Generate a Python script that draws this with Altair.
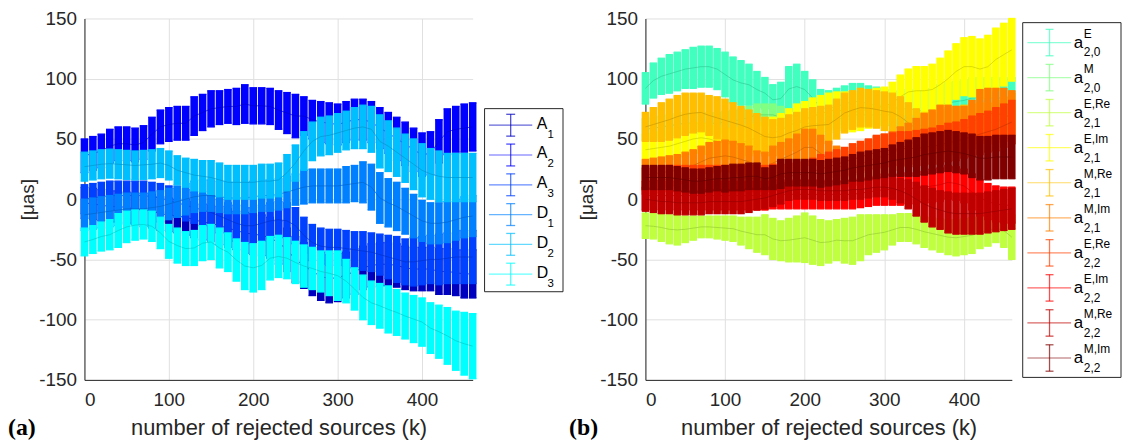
import altair as alt
import pandas as pd

k_values = list(range(0, 461, 10))

# ---------------- panel (a) ----------------
left_series = ["A1", "A2", "A3", "D1", "D2", "D3"]
left_base = ["A", "A", "A", "D", "D", "D"]
left_sub = ["1", "2", "3", "1", "2", "3"]
left_colors = ["#0000BF", "#0000FF", "#0040FF", "#0080FF", "#00BFFF", "#00FFFF"]

A1_c = [-3, -4, -5, -6, -6, -7, -8, -9, -10, -12,
        -13, -14, -15, -17, -19, -20, -22, -24, -26, -28,
        -29, -30, -32, -36, -42, -50, -55, -60, -64, -66,
        -65, -63, -60, -57, -55, -54, -54, -55, -57, -58,
        -58, -58, -60, -60, -61, -62, -62]
A1_e = [13, 13, 13, 13, 13, 13, 13, 14, 14, 14,
        14, 14, 15, 15, 15, 15, 16, 16, 16, 17,
        17, 17, 17, 18, 18, 19, 19, 20, 20, 20,
        20, 19, 19, 18, 18, 18, 18, 18, 18, 18,
        18, 18, 19, 19, 19, 20, 20]
A2_c = [36, 38, 40, 44, 46, 46, 45, 47, 54, 60,
        62, 63, 63, 69, 72, 75, 76, 77, 77, 79,
        77.5, 77.5, 77, 74, 71.5, 69, 69, 66, 64, 63,
        62, 64, 66, 66, 64, 59, 55, 50, 46, 41,
        37, 38, 48, 56, 58, 59, 60]
A2_e = [14, 14, 14, 14, 14, 14, 14, 14, 14, 14,
        14, 14, 14, 16, 15, 15, 14, 14, 15, 16,
        15, 15, 15, 16, 17, 18, 16, 16, 17, 17,
        17, 17, 17, 17, 17, 17, 17, 18, 18, 18,
        18, 18, 18, 19, 19, 20, 20]
A3_c = [0, 1, 2, 3, 3, 3, 3, 3, 2, 1,
        -1, -3, -5, -7, -9, -11, -14, -17, -20, -22,
        -22, -20, -18, -17, -18, -22, -30, -36, -39, -40,
        -40, -41, -42, -43, -44, -46, -48, -50, -52, -52,
        -51, -50, -50, -49, -48, -48, -48]
A3_e = [12, 12, 12, 12, 12, 12, 12, 12, 12, 12,
        12, 12, 13, 13, 13, 14, 14, 14, 15, 15,
        15, 15, 15, 15, 15, 15, 15, 15, 15, 15,
        15, 15, 15, 16, 16, 17, 18, 19, 19, 20,
        20, 20, 21, 21, 22, 22, 22]
D1_c = [-13, -12, -11, -10, -9, -8, -8, -8, -7, -6,
        -4, -2, 0, 2, 3, 3, 2, 1, 1, 1,
        2, 3, 3, 4, 6, 8, 10, 11, 11, 11,
        11, 12, 13, 14, 10, 1, -3, -6, -10, -14,
        -18, -20, -20, -19, -17, -15, -14]
D1_e = [13, 13, 13, 13, 13, 13, 13, 13, 13, 13,
        13, 13, 13, 13, 13, 13, 13, 13, 13, 13,
        13, 13, 13, 13, 13, 13, 14, 14, 14, 14,
        14, 15, 15, 17, 19, 21, 20, 20, 19, 18,
        17, 17, 17, 17, 17, 17, 17]
D2_c = [27, 28, 29, 29.5, 29, 28.5, 28, 28.5, 29, 30,
        28, 24, 22, 20, 19, 18, 16, 14, 14, 14,
        14, 15, 15, 16, 22, 30, 40, 48, 52, 53,
        55, 57, 59, 60, 58, 48, 44, 39, 34, 29,
        24, 21, 19, 18, 18, 18, 18]
D2_e = [12, 12, 12, 12, 12, 12, 12, 12, 12, 12,
        12, 12, 12, 13, 13, 14, 14, 14, 14, 14,
        14, 14, 14, 14, 15, 15, 16, 16, 16, 16,
        16, 16, 17, 18, 19, 22, 21, 20, 20, 21,
        22, 21, 21, 20, 20, 20, 20]
D3_c = [-35.5, -33.5, -31, -29.5, -26, -23, -21.5, -21, -22.5, -28,
        -35, -38.5, -41, -40.5, -36.5, -35.5, -40.5, -44, -50.5, -55.5,
        -57, -55, -49, -47.5, -49, -52.5, -55.5, -57.5, -60, -61.5,
        -63.5, -68, -74.5, -81.5, -86, -88.5, -91.5, -94, -97, -99.5,
        -102, -107, -110, -113.5, -117.5, -120, -122]
D3_e = [11.5, 11.5, 12, 12.5, 14, 13, 12.5, 12, 12.5, 13,
        14, 14.5, 14, 14.5, 14.5, 14.5, 16.5, 16, 17.5, 19.5,
        20, 20, 18, 17.5, 17, 17.5, 17.5, 17.5, 17, 18.5,
        20.5, 18, 17.5, 18.5, 18, 18.5, 19.5, 19, 19, 19.5,
        20, 21, 22, 23.5, 24.5, 26, 27]

left_centers = [A1_c, A2_c, A3_c, D1_c, D2_c, D3_c]
left_errors = [A1_e, A2_e, A3_e, D1_e, D2_e, D3_e]

# ---------------- panel (b) ----------------
right_series = ["a20E", "a20M", "a21ERe", "a21EIm", "a21MRe",
                "a21MIm", "a22ERe", "a22EIm", "a22MRe", "a22MIm"]
right_sup = ["E", "M", "E,Re", "E,Im", "M,Re", "M,Im", "E,Re", "E,Im", "M,Re", "M,Im"]
right_sub = ["2,0", "2,0", "2,1", "2,1", "2,1", "2,1", "2,2", "2,2", "2,2", "2,2"]
right_colors = ["#40FFBF", "#80FF80", "#BFFF40", "#FFFF00", "#FFBF00",
                "#FF8000", "#FF4000", "#FF0000", "#BF0000", "#800000"]

a20E_c = [92, 98.5, 102, 104, 106, 108, 109, 110, 110, 108,
          103.5, 99, 96.5, 95, 91, 88, 82.5, 83.5, 91.5, 93.5,
          91, 84, 76, 75, 77, 79, 81, 81, 79, 78,
          77, 76, 75, 75, 74, 73, 75, 78, 80, 81,
          82, 84, 84, 84, 84, 84, 84]
a20E_e = [13, 14.5, 15, 16, 16, 16, 17, 17, 17, 17,
          18.5, 19, 18.5, 17, 15, 13, 12.5, 13.5, 18.5, 18.5,
          15, 15, 15, 15, 15, 15, 15, 15, 15, 15,
          15, 15, 15, 16, 17, 17, 17, 17, 17, 17,
          17, 17, 17, 17, 17, 17, 17]
a20M_c = [58, 59, 60, 61, 62, 63, 63, 63, 63, 63,
          64, 65, 66, 68, 70, 70, 70, 68, 66, 64,
          63, 63, 63, 64, 66, 68, 70, 70, 70, 70,
          70, 70, 68, 65, 62, 60, 60, 62, 64, 65,
          66, 66, 66, 66, 66, 66, 66]
a20M_e = [9, 9, 9, 9, 9, 9, 9, 9, 9, 9,
          9, 9, 9, 9, 9, 9, 9, 9, 9, 9,
          9, 9, 9, 9, 9, 9, 9, 9, 9, 9,
          9, 9, 9, 9, 9, 9, 9, 9, 9, 9,
          9, 9, 9, 9, 9, 9, 9]
a21ERe_c = [-22, -22.5, -23.5, -25, -25.5, -25, -24, -23, -23, -23.5,
            -24, -24.5, -26.5, -28, -29.5, -29.5, -33, -34.5, -34, -33,
            -32, -34, -36, -35.5, -34, -34.5, -34.5, -32, -29.5, -28.5,
            -27.5, -25.5, -23.5, -23.5, -25, -27, -28.5, -30, -31.5, -32,
            -31, -30, -27.5, -26, -24, -26, -31.5]
a21ERe_e = [10.5, 10.5, 11.5, 12, 12.5, 11, 10, 9, 9, 9.5,
            10, 10.5, 11.5, 13, 14.5, 16.5, 17, 16.5, 18, 19,
            20.5, 20, 19, 17.5, 17, 18.5, 19.5, 19, 16.5, 15.5,
            14.5, 12.5, 11.5, 11.5, 12, 13, 13.5, 14, 14.5, 15,
            15, 15, 13.5, 13, 12, 14, 18.5]
a21EIm_c = [41, 42, 43, 44, 46, 48, 50, 51, 50, 48,
            46, 46, 47, 49, 51, 53, 55, 57, 61, 64,
            66, 69, 71, 73, 74, 73, 72, 73, 75, 76,
            77, 80, 85, 89, 90, 90, 91, 95, 100, 106,
            110, 110, 108, 110, 116, 120, 124]
a21EIm_e = [13, 13, 13, 13, 13, 13, 13, 13, 13, 13,
            13, 13, 13, 13, 13, 13, 13, 14, 14, 15,
            15, 15, 15, 15, 15, 16, 16, 16, 16, 16,
            16, 17, 18, 19, 20, 20, 21, 22, 23, 23,
            24, 25, 25, 26, 26, 26, 26]
a21MRe_c = [60, 62, 64, 66, 68.5, 70.5, 71.5, 72, 69.5, 67.5,
            65.5, 63.5, 61.5, 59, 55.5, 52, 51, 52, 55, 57,
            60, 61, 61.5, 62, 66.5, 71.5, 74, 76, 75.5, 74.5,
            73, 72, 68.5, 63.5, 58.5, 56, 56, 58, 60, 61,
            62, 62.5, 63, 63, 64.5, 67.5, 70]
a21MRe_e = [12, 14, 16, 17, 17.5, 17.5, 16.5, 16, 16.5, 17.5,
            17.5, 16.5, 15.5, 15, 15.5, 16, 15, 15, 15, 15,
            15, 15, 15.5, 16, 16.5, 16.5, 16, 16, 15.5, 15.5,
            16, 16, 16.5, 16.5, 16.5, 16, 16, 16, 16, 16,
            16, 16.5, 17, 17, 17.5, 17.5, 18]
a21MIm_c = [20, 21, 22, 23, 24, 26, 28, 31, 34, 35,
            36, 35, 33, 31, 27, 26, 30, 33, 36, 39,
            43, 43, 38, 33, 29, 25, 27, 29, 32, 34,
            36, 38, 42, 45, 48, 52, 55, 58, 58, 57,
            57, 62, 70, 71, 71, 70, 68]
a21MIm_e = [13, 13, 13, 13, 13, 13, 13, 13, 13, 13,
            13, 13, 13, 13, 13, 13, 14, 14, 14, 15,
            15, 15, 15, 15, 15, 15, 16, 17, 17, 18,
            18, 18, 18, 18, 19, 19, 19, 20, 20, 20,
            20, 20, 21, 21, 21, 22, 22]
a22ERe_c = [15, 15, 16, 17, 17, 17, 17, 17, 17, 17,
            17, 17, 17, 17, 17, 17, 18, 18, 19, 20,
            21, 23, 25, 27, 29, 31, 33, 35, 37, 39,
            40, 41, 42, 42, 42, 43, 44, 45, 47, 48,
            50, 52, 54, 56, 58, 61, 64]
a22ERe_e = [11, 11, 11, 11, 11, 11, 11, 11, 11, 11,
            11, 11, 11, 11, 11, 11, 11, 11, 11, 11,
            11, 11, 12, 12, 12, 12, 13, 13, 13, 14,
            14, 14, 14, 14, 15, 15, 15, 16, 16, 16,
            16, 17, 17, 17, 18, 18, 18]
a22EIm_c = [3, 3, 3, 3, 3, 3, 3, 3, 3, 3,
            3, 3, 3, 3, 3, 3, 4, 4, 4, 4,
            4, 4, 4, 4, 4, 4, 4, 5, 6, 7,
            8, 8, 8, 9, 9, 10, 11, 12, 14, 13,
            11, 6, 1, -2, -4, -5, -5]
a22EIm_e = [12, 12, 12, 12, 12, 12, 12, 12, 12, 12,
            12, 12, 12, 12, 12, 12, 12, 12, 12, 12,
            12, 12, 12, 12, 12, 12, 12, 12, 12, 12,
            13, 13, 13, 13, 13, 13, 14, 14, 14, 14,
            14, 15, 15, 15, 15, 15, 15]
a22MRe_c = [0, -1, -2, -2, -3, -3, -3, -3, -2, -2,
            -2, -2, -2, -1, 0, 1, 3, 5, 7, 8,
            8, 8, 7, 7, 7, 7, 8, 8, 9, 10,
            10, 9, 7, 4, 0, -4, -7, -9, -11, -12,
            -12, -12, -12, -11, -10, -9, -8]
a22MRe_e = [10, 10, 10, 10, 10, 10, 10, 10, 10, 10,
            10, 10, 10, 10, 9, 9, 9, 9, 8, 8,
            8, 8, 8, 8, 8, 8, 8, 8, 8, 8,
            8, 9, 10, 12, 14, 15, 16, 16, 17, 17,
            17, 17, 17, 17, 17, 17, 17]
a22MIm_c = [18, 18, 18, 18, 17, 16, 15, 15, 16, 17,
            17, 18, 18, 19, 19, 17, 18, 21, 22, 22,
            22, 22, 21, 22, 23, 24, 26, 27, 28, 29,
            30, 32, 33, 34, 35, 37, 38, 39, 40, 39,
            38, 36, 34, 34, 35, 35, 35]
a22MIm_e = [10, 10, 10, 10, 10, 10, 10, 10, 10, 10,
            11, 11, 11, 11, 11, 9, 10, 12, 11, 11,
            11, 11, 11, 11, 11, 11, 11, 12, 12, 12,
            12, 13, 14, 15, 16, 17, 17, 17, 17, 17,
            17, 18, 18, 18, 18, 18, 18]

right_centers = [a20E_c, a20M_c, a21ERe_c, a21EIm_c, a21MRe_c,
                 a21MIm_c, a22ERe_c, a22EIm_c, a22MRe_c, a22MIm_c]
right_errors = [a20E_e, a20M_e, a21ERe_e, a21EIm_e, a21MRe_e,
                a21MIm_e, a22ERe_e, a22EIm_e, a22MRe_e, a22MIm_e]

panel_labels = ["(a)", "(b)"]

# ---------------- styling ----------------
FONT = "Liberation Sans"
TXT = "#262626"
H = 364
WL = 391
WR = 369
BAR_W = 7.6
CAP_W = 1.3
LINE_W = 0.7
CAP_HALF = 4.5


def darker(h, f=0.8):
    r, g, b = int(h[1:3], 16), int(h[3:5], 16), int(h[5:7], 16)
    return "#%02x%02x%02x" % (int(r * f), int(g * f), int(b * f))


def segments(names, centers, errors):
    rows = []
    for s, cs, es in zip(names, centers, errors):
        for kk, c, e in zip(k_values, cs, es):
            lo, hi = c - e, c + e
            rows.append((kk, kk, lo, hi, BAR_W, s))
            rows.append((kk - CAP_HALF, kk + CAP_HALF, lo, lo, CAP_W, s))
            rows.append((kk - CAP_HALF, kk + CAP_HALF, hi, hi, CAP_W, s))
        for i in range(len(k_values) - 1):
            rows.append((k_values[i], k_values[i + 1], cs[i], cs[i + 1], LINE_W, s + "|line"))
    return pd.DataFrame(rows, columns=["x", "x2", "y", "y2", "sw", "key"])


def color_scale(names, colors):
    keys = names + [n + "|line" for n in names]
    rng = colors + [darker(c) for c in colors]
    return alt.Scale(domain=keys, range=rng)


def main_layer(names, centers, errors, colors, width, ytitle_x):
    df = segments(names, centers, errors)
    return alt.Chart(df).mark_rule(clip=False).encode(
        x=alt.X("x:Q", scale=alt.Scale(domain=[0, 460], nice=False, zero=False),
                axis=alt.Axis(values=[0, 100, 200, 300, 400], title="number of rejected sources (k)",
                              ticks=False, labelPadding=11, titleX=width / 2, titleY=55,
                              titleBaseline="alphabetic", titleFontSize=22,
                              labelExpr="'' + datum.value")),
        x2="x2:Q",
        y=alt.Y("y:Q", scale=alt.Scale(domain=[-150, 150], nice=False, zero=False),
                axis=alt.Axis(values=[-150, -100, -50, 0, 50, 100, 150], title="[μas]",
                              ticks=False, labelPadding=8, titleX=ytitle_x, titleY=H / 2,
                              titleAngle=270, titleAlign="center", titleBaseline="middle",
                              titleFontSize=19, labelExpr="'' + datum.value")),
        y2="y2:Q",
        color=alt.Color("key:N", scale=color_scale(names, colors), legend=None),
        strokeWidth=alt.StrokeWidth("sw:Q", scale=None),
    )


def label_layer(text, xpos):
    df = pd.DataFrame({"t": [text]})
    return alt.Chart(df).mark_text(font="Liberation Serif", fontWeight="bold", fontSize=24,
                                   align="left", baseline="alphabetic", color="black").encode(
        x=alt.value(xpos), y=alt.value(420), text="t:N")


def box_layer(x1, x2, y1, y2):
    df = pd.DataFrame({"b": [1]})
    return alt.Chart(df).mark_rect(fill="white", stroke=TXT, strokeWidth=1).encode(
        x=alt.value(x1), x2=alt.value(x2), y=alt.value(y1), y2=alt.value(y2))


cl = alt.Color("key:N", legend=None)

# ----- left legend -----
leg_l = pd.DataFrame({"idx": list(range(6)), "key": left_series,
                      "base": left_base, "sub": left_sub})
yl = alt.Y("idx:Q", scale=alt.Scale(domain=[-0.5, 5.5], range=[92.5, 272.5]), axis=None)
lb = alt.Chart(leg_l)
left_legend = [
    box_layer(403, 482, 90.8, 275.2),
    lb.mark_rule(strokeWidth=1.2, opacity=0.6).encode(x=alt.value(407.5), x2=alt.value(451), y=yl, color=cl),
    lb.mark_tick(orient="vertical", size=22, thickness=1.3).encode(x=alt.value(429.3), y=yl, color=cl),
    lb.mark_tick(orient="horizontal", size=9, thickness=1.3, yOffset=-11).encode(x=alt.value(429.3), y=yl, color=cl),
    lb.mark_tick(orient="horizontal", size=9, thickness=1.3, yOffset=11).encode(x=alt.value(429.3), y=yl, color=cl),
    lb.mark_text(align="left", baseline="alphabetic", fontSize=16, font=FONT, color="black", dy=3.5).encode(
        x=alt.value(455.5), y=yl, text="base:N"),
    lb.mark_text(align="left", baseline="alphabetic", fontSize=11.5, font=FONT, color="black", dy=12.5).encode(
        x=alt.value(466.5), y=yl, text="sub:N"),
]

left = alt.layer(
    main_layer(left_series, left_centers, left_errors, left_colors, WL, -57),
    *left_legend,
    label_layer(panel_labels[0], -77),
).resolve_scale(y="independent").properties(width=WL, height=H)

# ----- right legend -----
leg_r = pd.DataFrame({"idx": list(range(10)), "key": right_series,
                      "sup": right_sup, "sub": right_sub, "base": ["a"] * 10})
yr = alt.Y("idx:Q", scale=alt.Scale(domain=[-0.5, 9.5], range=[6.6, 359.6]), axis=None)
rb = alt.Chart(leg_r)
right_legend = [
    box_layer(380, 479, 4.2, 361.5),
    rb.mark_rule(strokeWidth=1.2, opacity=0.6).encode(x=alt.value(384.7), x2=alt.value(428.7), y=yr, color=cl),
    rb.mark_tick(orient="vertical", size=26.6, thickness=1.3).encode(x=alt.value(407), y=yr, color=cl),
    rb.mark_tick(orient="horizontal", size=8, thickness=1.3, yOffset=-13.3).encode(x=alt.value(407), y=yr, color=cl),
    rb.mark_tick(orient="horizontal", size=8, thickness=1.3, yOffset=13.3).encode(x=alt.value(407), y=yr, color=cl),
    rb.mark_text(align="left", baseline="alphabetic", fontSize=17, font=FONT, color="black", dy=5).encode(
        x=alt.value(431.3), y=yr, text="base:N"),
    rb.mark_text(align="left", baseline="alphabetic", fontSize=12, font=FONT, color="black", dy=-5).encode(
        x=alt.value(441.5), y=yr, text="sup:N"),
    rb.mark_text(align="left", baseline="alphabetic", fontSize=12, font=FONT, color="black", dy=14).encode(
        x=alt.value(441.5), y=yr, text="sub:N"),
]

right = alt.layer(
    main_layer(right_series, right_centers, right_errors, right_colors, WR, -59),
    *right_legend,
    label_layer(panel_labels[1], -77),
).resolve_scale(y="independent").properties(width=WR, height=H)

chart = alt.hconcat(left, right, spacing=5).resolve_scale(color="independent").properties(
    padding={"left": 0, "top": 0, "right": 0, "bottom": 0}
).configure_view(stroke=None).configure_axis(
    labelFont=FONT, titleFont=FONT, labelFontSize=19, labelColor=TXT, titleColor=TXT,
    titleFontWeight="normal", domainColor=TXT, domainWidth=1, gridColor="#e0e0e0", gridWidth=1,
)

chart.save("out.html", embed_options={"renderer": "svg", "actions": False})
